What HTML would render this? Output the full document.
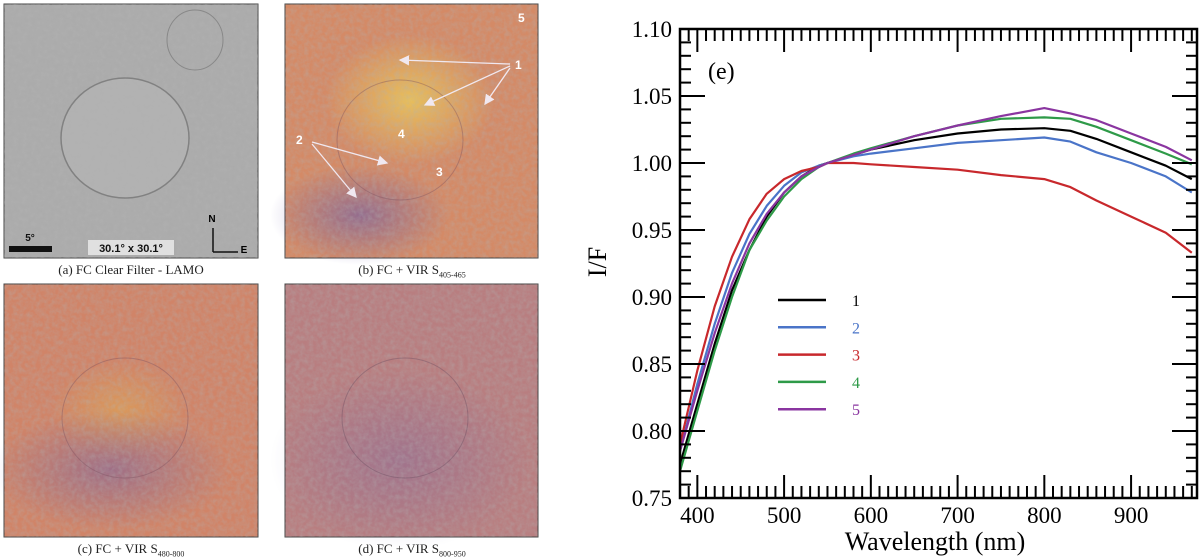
<!DOCTYPE html>
<html><head><meta charset="utf-8">
<style>
html,body{margin:0;padding:0;background:#fff;}
body{width:1200px;height:559px;position:relative;overflow:hidden;font-family:"Liberation Serif",serif;}
.cap{position:absolute;font-size:13px;color:#222;text-align:center;width:254px;}
</style></head>
<body>
<svg id="photos" width="560" height="559" style="position:absolute;left:0;top:0">
<defs>
<filter id="tex" x="0" y="0" width="100%" height="100%">
<feTurbulence type="fractalNoise" baseFrequency="0.22" numOctaves="3" seed="3" result="n"/>
<feColorMatrix in="n" type="matrix" values="0 0 0 0 0.45  0 0 0 0 0.45  0 0 0 0 0.45  1.0 0 0 0 -0.3" result="a"/>
<feComposite in="a" in2="SourceGraphic" operator="in"/>
</filter>
<radialGradient id="yel" cx="0.5" cy="0.5" r="0.5"><stop offset="0" stop-color="#eed058" stop-opacity="0.75"/><stop offset="1" stop-color="#eed058" stop-opacity="0"/></radialGradient>
<radialGradient id="yel2" cx="0.5" cy="0.5" r="0.5"><stop offset="0" stop-color="#e8b848" stop-opacity="0.4"/><stop offset="1" stop-color="#e8b848" stop-opacity="0"/></radialGradient>
<radialGradient id="pur" cx="0.5" cy="0.5" r="0.5"><stop offset="0" stop-color="#6a5aa8" stop-opacity="0.6"/><stop offset="1" stop-color="#6a5aa8" stop-opacity="0"/></radialGradient>
<marker id="ah" markerWidth="8" markerHeight="8" refX="7" refY="4" orient="auto"><path d="M0,0 L8,4 L0,8 z" fill="#f0e8f0"/></marker>
</defs>
<g>
<rect x="4" y="4" width="254" height="254" fill="#ababab" stroke="#444" stroke-width="1"/>
<rect x="4" y="4" width="254" height="254" fill="#fff" filter="url(#tex)" opacity="0.8"/>
<ellipse cx="125" cy="138" rx="64" ry="60" fill="#b6b6b6" stroke="#666" stroke-width="1.5" opacity="0.6"/>
<ellipse cx="195" cy="40" rx="28" ry="30" fill="none" stroke="#888" stroke-width="1"/>
<rect x="9" y="246" width="43" height="6" fill="#111"/>
<text x="30" y="241" font-family="Liberation Sans" font-weight="bold" font-size="10" text-anchor="middle" fill="#111">5°</text>
<rect x="88" y="240" width="86" height="15" fill="#e0e0e0"/>
<text x="131" y="252" font-family="Liberation Sans" font-weight="bold" font-size="11" text-anchor="middle" fill="#111">30.1° x 30.1°</text>
<path d="M213,252 V228 M213,252 H238" stroke="#111" stroke-width="1.5" fill="none"/>
<text x="212" y="222" font-family="Liberation Sans" font-weight="bold" font-size="10" text-anchor="middle">N</text>
<text x="244" y="253" font-family="Liberation Sans" font-weight="bold" font-size="10" text-anchor="middle">E</text>
</g>
<g>
<rect x="285" y="4" width="253" height="254" fill="#d48a66" stroke="#444"/>
<ellipse cx="410" cy="100" rx="85" ry="65" fill="url(#yel)"/>
<ellipse cx="360" cy="215" rx="90" ry="50" fill="url(#pur)"/>
<rect x="285" y="4" width="253" height="254" fill="#fff" filter="url(#tex)" opacity="0.6"/>
<ellipse cx="400" cy="140" rx="63" ry="60" fill="none" stroke="#7a5060" stroke-width="1" opacity="0.4"/>
<g stroke="#f0e8f0" stroke-width="1.3" marker-end="url(#ah)">
<line x1="510" y1="64" x2="400" y2="60"/><line x1="510" y1="66" x2="425" y2="105"/><line x1="510" y1="68" x2="485" y2="104"/>
<line x1="312" y1="142" x2="387" y2="163"/><line x1="312" y1="144" x2="356" y2="197"/>
</g>
<g font-family="Liberation Sans" font-weight="bold" font-size="12" fill="#fff">
<text x="515" y="69">1</text><text x="296" y="144">2</text><text x="436" y="176">3</text><text x="398" y="138">4</text><text x="518" y="22">5</text></g>
</g>
<g>
<rect x="4" y="284" width="254" height="253" fill="#d08468" stroke="#444"/>
<ellipse cx="120" cy="410" rx="70" ry="50" fill="url(#yel2)"/>
<ellipse cx="110" cy="470" rx="120" ry="60" fill="url(#pur)" opacity="0.8"/>
<rect x="4" y="284" width="254" height="253" fill="#fff" filter="url(#tex)" opacity="0.6"/>
<ellipse cx="125" cy="418" rx="63" ry="60" fill="none" stroke="#7a5060" stroke-width="1" opacity="0.4"/>
</g>
<g>
<rect x="285" y="284" width="253" height="253" fill="#b87e80" stroke="#444"/>
<ellipse cx="400" cy="460" rx="130" ry="90" fill="url(#pur)" opacity="0.5"/>
<rect x="285" y="284" width="253" height="253" fill="#fff" filter="url(#tex)" opacity="0.6"/>
<ellipse cx="405" cy="418" rx="63" ry="60" fill="none" stroke="#6a4a60" stroke-width="1" opacity="0.4"/>
</g>
</svg>
<div class="cap" style="left:4px;top:262px">(a) FC Clear Filter - LAMO</div>
<div class="cap" style="left:285px;top:262px">(b) FC + VIR S<sub style="font-size:8px">405-465</sub></div>
<div class="cap" style="left:4px;top:541px">(c) FC + VIR S<sub style="font-size:8px">480-800</sub></div>
<div class="cap" style="left:285px;top:541px">(d) FC + VIR S<sub style="font-size:8px">800-950</sub></div>

<svg id="chart" width="1200" height="559" style="position:absolute;left:0;top:0;pointer-events:none"></svg>
<script>
const wavelengths=[380,400,420,440,460,480,500,520,540,550,580,600,650,700,750,800,830,860,900,940,970];
const series1=[0.775,0.82,0.865,0.905,0.935,0.960,0.978,0.990,0.998,1.000,1.006,1.010,1.017,1.022,1.025,1.026,1.024,1.018,1.008,0.998,0.988];
const series2=[0.785,0.835,0.880,0.918,0.947,0.968,0.983,0.993,0.998,1.000,1.005,1.007,1.011,1.015,1.017,1.019,1.016,1.008,1.000,0.990,0.978];
const series3=[0.790,0.845,0.893,0.930,0.958,0.977,0.988,0.994,0.997,1.000,1.000,0.999,0.997,0.995,0.991,0.988,0.982,0.972,0.960,0.948,0.933];
const series4=[0.770,0.815,0.860,0.900,0.935,0.957,0.975,0.988,0.997,1.000,1.007,1.011,1.020,1.028,1.033,1.034,1.033,1.027,1.017,1.007,0.999];
const series5=[0.785,0.830,0.873,0.910,0.940,0.962,0.978,0.990,0.997,1.000,1.006,1.010,1.020,1.028,1.035,1.041,1.037,1.032,1.022,1.012,1.002];
const seriesNames=["1","2","3","4","5"];
const seriesColors=["#000000","#4a74c8","#c8282c","#2e9a48","#8a35a0"];
const xTicks=[400,500,600,700,800,900];
const yTicks=[0.75,0.80,0.85,0.90,0.95,1.00,1.05,1.10];

const L=680,R=1197,T=29,B=498,X0=380,X1=976,Y0=0.75,Y1=1.10;
const sx=v=>L+(v-X0)/(X1-X0)*(R-L);
const sy=v=>B-(v-Y0)/(Y1-Y0)*(B-T);
const NS="http://www.w3.org/2000/svg";
const svg=document.getElementById('chart');
function mk(tag,attrs,parent){const e=document.createElementNS(NS,tag);for(const k in attrs)e.setAttribute(k,attrs[k]);(parent||svg).appendChild(e);return e;}

const clip=mk('clipPath',{id:'pc'});mk('rect',{x:L,y:T,width:R-L,height:B-T},clip);
const allSeries=[series1,series2,series3,series4,series5];
allSeries.forEach((s,i)=>{
  let d='';s.forEach((v,j)=>{d+=(j?'L':'M')+sx(wavelengths[j]).toFixed(1)+','+sy(v).toFixed(1);});
  const p=mk('path',{d:d,fill:'none',stroke:seriesColors[i],'stroke-width':2.2,'clip-path':'url(#pc)','stroke-linejoin':'round'});
  
  
});

const tg=mk('g',{stroke:'#000','stroke-width':2});


for(let w=380;w<=X1;w+=10){
  const x=sx(w),maj=(w%100===0),len=maj?23:12;
  mk('line',{x1:x,y1:B,x2:x,y2:B-len},tg);mk('line',{x1:x,y1:T,x2:x,y2:T+len},tg);
}
for(let k=0;k<=35;k++){
  const v=Y0+k*0.01,y=sy(v),maj=(k%5===0),len=maj?25:11;
  mk('line',{x1:L,y1:y,x2:L+len,y2:y},tg);mk('line',{x1:R,y1:y,x2:R-len,y2:y},tg);
}
const frame=mk('rect',{x:L,y:T,width:R-L,height:B-T,fill:'none',stroke:'#000','stroke-width':2.5});



xTicks.forEach(v=>{const t=mk('text',{x:sx(v),y:523,'text-anchor':'middle','font-size':23,'font-family':'Liberation Serif, serif'});t.textContent=v;
  
  });
yTicks.forEach(v=>{const t=mk('text',{x:672,y:sy(v)+8,'text-anchor':'end','font-size':23,'font-family':'Liberation Serif, serif'});t.textContent=v.toFixed(2);
  
  });

const xt=mk('text',{x:935,y:550,'text-anchor':'middle','font-size':26,'font-family':'Liberation Serif, serif'});xt.textContent='Wavelength (nm)';


const yt=mk('text',{x:0,y:0,'text-anchor':'middle','font-size':26,'font-family':'Liberation Serif, serif',transform:'translate(606,262) rotate(-90)'});yt.textContent='I/F';


const pl=mk('text',{x:708,y:79,'font-size':24,'font-family':'Liberation Serif, serif'});pl.textContent='(e)';



seriesNames.forEach((n,i)=>{
  const y=300+i*27.3;
  const g=mk('g',{});
  
  
  mk('line',{x1:778,y1:y,x2:826,y2:y,stroke:seriesColors[i],'stroke-width':2.5},g);
  const t=mk('text',{x:852,y:y+6,'font-size':16,fill:seriesColors[i],'font-family':'Liberation Serif, serif'},g);t.textContent=n;
});
</script>
</body></html>
